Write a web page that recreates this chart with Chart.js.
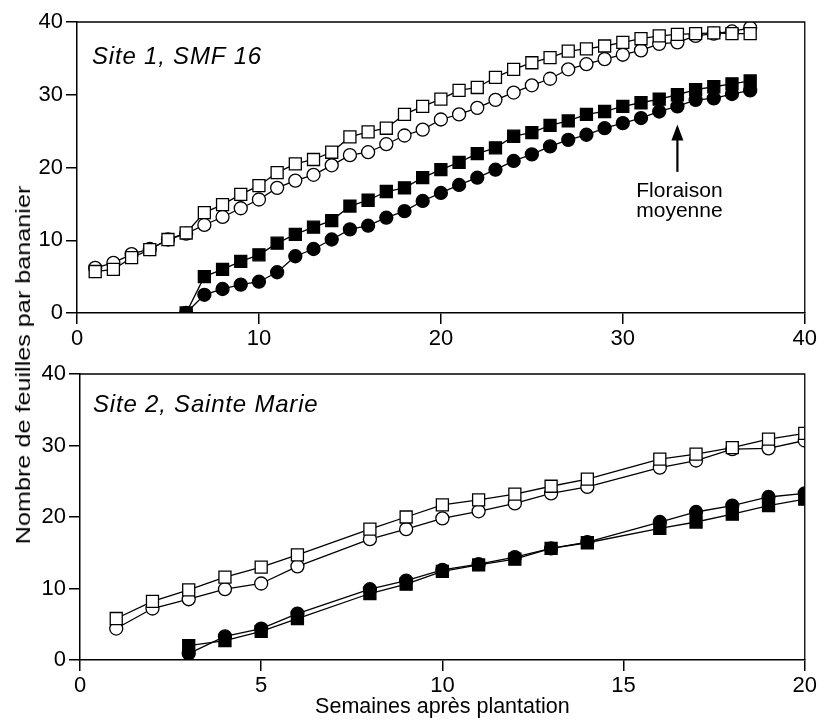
<!DOCTYPE html>
<html><head><meta charset="utf-8">
<script src="https://cdn.jsdelivr.net/npm/chart.js@4"></script>
<style>
body{margin:0;background:#fff;}
#wrap{position:relative;width:819px;height:722px;overflow:hidden;background:#fff;}
canvas{position:absolute;left:0;}
#c1{top:0;} #c2{top:350px;}
#ytitle{position:absolute;left:23px;top:365px;transform:translate(-50%,-50%) rotate(-90deg) scaleX(1.2);font:21px 'Liberation Sans',Arial,sans-serif;white-space:nowrap;color:#000;}
</style></head><body>
<div id="wrap">
<canvas id="c1" width="819" height="350"></canvas>
<canvas id="c2" width="819" height="372"></canvas>
<div id="ytitle">Nombre de feuilles par bananier</div>
</div>
<script>
// ---------- data ----------
const yTitle = 'Nombre de feuilles par bananier';
const xTitle = 'Semaines après plantation';
const title1 = 'Site 1, SMF 16';
const title2 = 'Site 2, Sainte Marie';
const floraisonLines = ['Floraison', 'moyenne'];
const floraisonWeek = 33;
const yTicks = [0, 10, 20, 30, 40];

const weeks1 = [1,2,3,4,5,6,7,8,9,10,11,12,13,14,15,16,17,18,19,20,21,22,23,24,25,26,27,28,29,30,31,32,33,34,35,36,37];
const s1OpenSquare = [5.7,6.0,7.6,8.7,10.1,11.0,13.8,14.9,16.3,17.5,19.3,20.5,21.1,22.1,24.2,24.9,25.4,27.3,28.4,29.4,30.6,31.0,32.4,33.5,34.4,35.1,36.0,36.3,36.7,37.2,37.7,38.1,38.3,38.4,38.5,38.4,38.4];
const s1OpenCircle = [6.2,6.9,8.1,8.8,10.1,10.9,12.1,13.2,14.4,15.6,17.2,18.2,19.0,20.3,21.7,22.1,23.2,24.4,25.2,26.6,27.3,28.2,29.3,30.3,31.3,32.2,33.5,34.2,34.9,35.5,36.1,37.0,37.2,38.1,38.4,38.7,39.2];
const s1FilledSquare = [null,null,null,null,null,0,5.0,6.0,7.1,8.0,9.6,10.8,11.8,12.7,14.7,15.5,16.7,17.2,18.6,19.7,20.7,21.9,22.7,24.3,24.8,25.8,26.4,27.3,27.7,28.4,28.9,29.4,30.0,30.7,31.1,31.5,31.9];
const s1FilledCircle = [null,null,null,null,null,0,2.5,3.3,3.9,4.3,5.6,7.8,8.8,10.1,11.5,12.0,13.1,14.0,15.4,16.5,17.6,18.6,19.7,20.9,21.8,22.9,23.8,24.5,25.4,26.1,26.8,27.7,28.4,29.3,29.5,30.1,30.6];

const weeks2 = [1,2,3,4,5,6,8,9,10,11,12,13,14,16,17,18,19,20];
const s2OpenSquare = [5.8,8.2,9.8,11.6,13.0,14.7,18.3,20.0,21.7,22.4,23.2,24.3,25.3,28.1,28.8,29.7,30.9,31.7];
const s2OpenCircle = [4.4,7.2,8.5,9.9,10.7,13.1,16.9,18.3,19.8,20.8,21.9,23.3,24.2,26.9,27.9,29.5,29.6,30.7];
const s2FilledSquare = [null,null,2.0,2.7,4.0,5.8,9.3,10.6,12.4,13.3,14.1,15.6,16.4,18.4,19.3,20.4,21.6,22.5];
const s2FilledCircle = [null,null,0.9,3.3,4.4,6.5,9.9,11.1,12.6,13.4,14.4,15.6,16.5,19.3,20.7,21.6,22.8,23.3];

// ---------- helpers ----------
const FF = "'Liberation Sans', Arial, sans-serif";
function pts(xs, ys){ const out=[]; xs.forEach((x,i)=>{ if(ys[i]!==null) out.push({x:x,y:ys[i]}); }); return out; }
function ds(data, style, filled){
  return { data, showLine:true, borderColor:'#000', borderWidth:1.3, tension:0, fill:false,
    pointStyle:style, pointRadius: style==='rect'?8.5:6.5, pointHoverRadius: style==='rect'?8.5:6.5,
    pointBorderWidth:1.3, pointBackgroundColor: filled?'#000':'#fff', pointBorderColor:'#000' };
}
const frame = { id:'frame', afterDraw(chart){
  const {ctx, chartArea:a} = chart; ctx.save(); ctx.strokeStyle='#000'; ctx.lineWidth=1.3;
  ctx.beginPath(); ctx.moveTo(a.left,a.top); ctx.lineTo(a.right,a.top); ctx.lineTo(a.right,a.bottom); ctx.stroke(); ctx.restore(); } };
function panelTitle(text, dx, dy){ return { id:'ptitle', afterDraw(chart){
  const {ctx, chartArea:a} = chart; ctx.save(); ctx.fillStyle='#000'; ctx.font="italic 24px "+FF;
  try { ctx.letterSpacing = '0.8px'; } catch(e) {}
  ctx.textAlign='left'; ctx.textBaseline='middle'; ctx.fillText(text, a.left+dx, a.top+dy); ctx.restore(); } }; }
const flor = { id:'flor', afterDatasetsDraw(chart){
  const {ctx} = chart; const x = chart.scales.x.getPixelForValue(floraisonWeek);
  const yTip = chart.scales.y.getPixelForValue(25.9), yTail = chart.scales.y.getPixelForValue(19.4);
  ctx.save(); ctx.strokeStyle='#000'; ctx.fillStyle='#000'; ctx.lineWidth=2.2;
  ctx.beginPath(); ctx.moveTo(x,yTail); ctx.lineTo(x,yTip+10); ctx.stroke();
  ctx.beginPath(); ctx.moveTo(x,yTip); ctx.lineTo(x-6,yTip+16); ctx.lineTo(x+6,yTip+16); ctx.closePath(); ctx.fill();
  ctx.font="21px "+FF; ctx.textAlign='center'; ctx.textBaseline='alphabetic';
  ctx.fillText(floraisonLines[0], x+2, yTail+25); ctx.fillText(floraisonLines[1], x+2, yTail+45);
  ctx.restore(); } };

function opts(xmax, xstep, padTop, padRight, xH, yW, withTitle){
  const tickFont = {family:FF, size:22};
  const grid = {display:true, drawOnChartArea:false, drawTicks:true, tickLength:11, color:'#000', lineWidth:1.5};
  return {
    responsive:false, animation:false, devicePixelRatio:1,
    layout:{padding:{top:padTop,right:padRight,left:0,bottom:0}, autoPadding:false},
    plugins:{legend:{display:false}, tooltip:{enabled:false}},
    scales:{
      x:{type:'linear', min:0, max:xmax, ticks:{stepSize:xstep, color:'#000', font:tickFont, padding:2, maxRotation:0}, grid,
         border:{display:true, color:'#000', width:1.5},
         title:{display:withTitle, text:xTitle, color:'#000', font:{family:FF,size:21.5}, padding:{top:0,bottom:2}},
         afterFit:(s)=>{ s.height = xH; } },
      y:{type:'linear', min:0, max:40, afterBuildTicks:(s)=>{ s.ticks = yTicks.map(v=>({value:v})); },
         ticks:{color:'#000', font:tickFont, padding:3}, grid,
         border:{display:true, color:'#000', width:1.5},
         afterFit:(s)=>{ s.width = yW; } }
    }
  };
}

new Chart(document.getElementById('c1'), {
  type:'line',
  data:{ datasets:[
    ds(pts(weeks1, s1FilledSquare), 'rect', true),
    ds(pts(weeks1, s1FilledCircle), 'circle', true),
    ds(pts(weeks1, s1OpenSquare), 'rect', false),
    ds(pts(weeks1, s1OpenCircle), 'circle', false)
  ]},
  options: opts(40, 10, 22, 14, 37, 77, false),
  plugins:[frame, panelTitle(title1, 15, 35), flor]
});

new Chart(document.getElementById('c2'), {
  type:'line',
  data:{ datasets:[
    ds(pts(weeks2, s2FilledSquare), 'rect', true),
    ds(pts(weeks2, s2FilledCircle), 'circle', true),
    ds(pts(weeks2, s2OpenSquare), 'rect', false),
    ds(pts(weeks2, s2OpenCircle), 'circle', false)
  ]},
  options: opts(20, 5, 24, 12, 62, 80, true),
  plugins:[frame, panelTitle(title2, 13, 31)]
});
</script>
</body></html>
